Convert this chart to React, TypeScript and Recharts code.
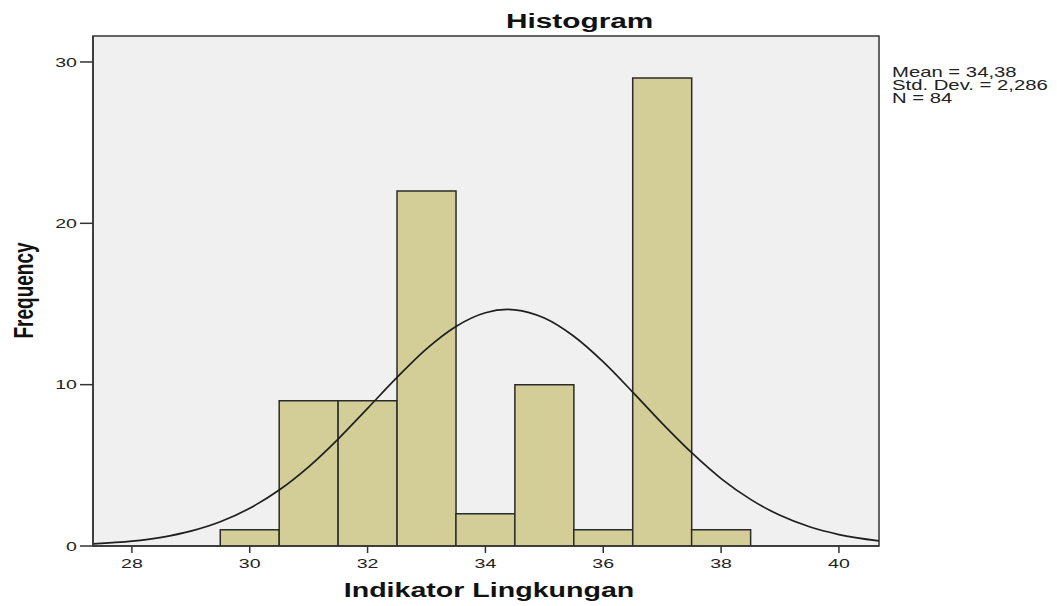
import React from 'react';
import { ComposedChart, Bar, Line, XAxis, YAxis, ReferenceArea, CartesianGrid } from 'recharts';

// Histogram bins (bin centre) and their frequencies
const binCenters = [30, 31, 32, 33, 34, 35, 36, 37, 38];
const frequencies = [1, 9, 9, 22, 2, 10, 1, 29, 1];

// Normal curve overlay
const curveX = [27.34, 28, 28.5, 29, 29.5, 30, 30.5, 31, 31.5, 32, 32.5, 33, 33.5, 34, 34.38, 34.5, 35, 35.5, 36, 36.5, 37, 37.5, 38, 38.5, 39, 39.5, 40, 40.68];
const curveY = [0.13, 0.3, 0.54, 0.92, 1.5, 2.34, 3.47, 4.91, 6.63, 8.53, 10.45, 12.22, 13.61, 14.46, 14.66, 14.64, 14.13, 13.0, 11.41, 9.54, 7.6, 5.78, 4.18, 2.89, 1.9, 1.19, 0.71, 0.32];

const xTicks = [28, 30, 32, 34, 36, 38, 40];
const yTicks = [0, 10, 20, 30];
const xDomain = [27.34, 40.68];
const yDomain = [0, 31.61];

const titleText = 'Histogram';
const xLabelText = 'Indikator Lingkungan';
const yLabelText = 'Frequency';
const statsLines = ['Mean = 34,38', 'Std. Dev. = 2,286', 'N = 84'];

const barData = binCenters.map((x, i) => ({ x, count: frequencies[i] }));
const curveData = curveX.map((x, i) => ({ x, y: curveY[i] }));

const FONT = '"Liberation Sans", Arial, sans-serif';
const SX = 1.43;

const XTick = (props: any) => {
  const { x, y, payload } = props;
  return (
    <text
      transform={`translate(${x},${y}) scale(1.45,1)`}
      x={0}
      y={13}
      textAnchor="middle"
      fontFamily={FONT}
      fontSize={13.5}
      fill="#222"
    >
      {payload.value}
    </text>
  );
};

const YTick = (props: any) => {
  const { x, y, payload } = props;
  return (
    <text
      transform={`translate(${x},${y}) scale(1.45,1)`}
      x={0}
      y={4.8}
      textAnchor="end"
      fontFamily={FONT}
      fontSize={13.5}
      fill="#222"
    >
      {payload.value}
    </text>
  );
};

export default function App() {
  return (
    <div style={{ position: 'absolute', left: 0, top: 0, width: 1057, height: 606, background: '#fff' }}>
      <ComposedChart
        width={1057}
        height={606}
        data={barData}
        margin={{ top: 36, right: 178, bottom: 30, left: 33 }}
        barCategoryGap={0}
        barGap={0}
      >
        <CartesianGrid fill="#f0f0f0" horizontal={false} vertical={false} xAxisId="bars" />
        <XAxis
          xAxisId="bars"
          dataKey="x"
          type="number"
          domain={xDomain}
          ticks={xTicks}
          allowDataOverflow
          height={30}
          tickSize={7}
          tickMargin={2}
          tick={<XTick />}
          tickLine={{ stroke: '#333', strokeWidth: 1.5 }}
          axisLine={{ stroke: '#333', strokeWidth: 1.5 }}
        />
        <XAxis
          xAxisId="curve"
          dataKey="x"
          type="number"
          domain={xDomain}
          allowDataOverflow
          hide
        />
        <YAxis
          type="number"
          domain={yDomain}
          ticks={yTicks}
          allowDataOverflow
          width={60}
          tickSize={13}
          tickMargin={3}
          tick={<YTick />}
          tickLine={{ stroke: '#333', strokeWidth: 1.5 }}
          axisLine={{ stroke: '#333', strokeWidth: 1.5 }}
        />
        <Bar
          xAxisId="bars"
          dataKey="count"
          fill="#d3ce97"
          stroke="#2b2b2b"
          strokeWidth={1.5}
          isAnimationActive={false}
        />
        <Line
          xAxisId="curve"
          data={curveData}
          dataKey="y"
          type="monotone"
          dot={false}
          activeDot={false}
          stroke="#1e1e1e"
          strokeWidth={1.7}
          isAnimationActive={false}
        />
        <ReferenceArea
          xAxisId="bars"
          x1={xDomain[0]}
          x2={xDomain[1]}
          y1={yDomain[0]}
          y2={yDomain[1]}
          fill="none"
          fillOpacity={0}
          stroke="#333"
          strokeWidth={1.5}
          ifOverflow="visible"
        />
      </ComposedChart>
      <svg
        width={1057}
        height={606}
        style={{ position: 'absolute', left: 0, top: 0, pointerEvents: 'none' }}
      >
        <text
          transform={`translate(506,28) scale(1.42,1)`}
          textAnchor="start"
          fontFamily={FONT}
          fontWeight="bold"
          fontSize={21}
          fill="#111"
        >
          {titleText}
        </text>
        <text
          transform={`translate(33,290.5) scale(${SX},1) rotate(-90)`}
          textAnchor="middle"
          fontFamily={FONT}
          fontWeight="bold"
          fontSize={19}
          fill="#111"
        >
          {yLabelText}
        </text>
        <text
          transform={`translate(489,597) scale(${SX},1)`}
          textAnchor="middle"
          fontFamily={FONT}
          fontWeight="bold"
          fontSize={20}
          fill="#111"
        >
          {xLabelText}
        </text>
        {statsLines.map((s, i) => (
          <text
            key={s}
            transform={`translate(892,${76.7 + i * 13.1}) scale(1.45,1)`}
            fontFamily={FONT}
            fontSize={14}
            fill="#222"
          >
            {s}
          </text>
        ))}
      </svg>
    </div>
  );
}
